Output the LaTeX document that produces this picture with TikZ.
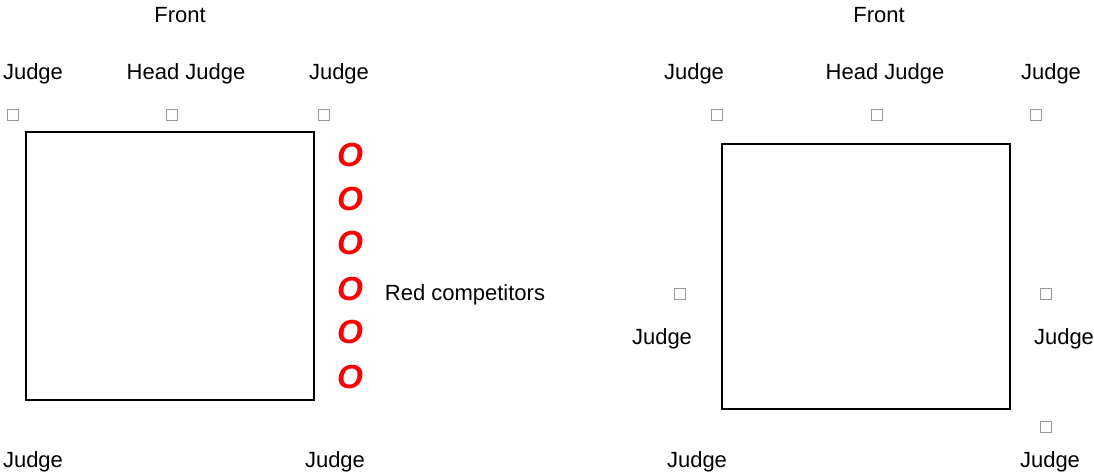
\documentclass[tikz,border=0pt]{standalone}
\usepackage{fontspec}
\setmainfont{Liberation Sans}
\begin{document}
\begin{tikzpicture}[x=0.75pt,y=-0.75pt,
  lbl/.style={inner sep=0pt,yshift=-1.2pt,font=\fontsize{16.5}{19}\selectfont},
  seat/.style={draw=gray!80,line width=0.5pt,minimum size=8.5pt,inner sep=0pt},
  ring/.style={draw=black,line width=1.5pt},
  comp/.style={inner sep=0pt,text=red,font=\fontsize{25}{28}\selectfont\itshape\bfseries}]
\useasboundingbox (0,0) rectangle (1094,472);
% left
\node[ring,minimum width=216pt,minimum height=201pt,inner sep=0pt] (ringL) at (170,266) {};
\node[lbl] (frontL) at (180,13) {Front};
\node[lbl] (jTL) at (33,72) {Judge};
\node[lbl] (hjL) at (186,72) {Head Judge};
\node[lbl] (jTR) at (339,72) {Judge};
\node[seat] (sTL) at (13,115) {};
\node[seat] (sHL) at (172,115) {};
\node[seat] (sTR) at (324,115) {};
\foreach \i/\y in {1/155,2/199,3/243,4/289,5/332,6/377}
  \node[comp] (c\i) at (350,\y) {O};
\node[lbl] (redc) at (465,293) {Red competitors};
\node[lbl] (jBL) at (33,460) {Judge};
\node[lbl] (jBR) at (335,460) {Judge};
% right
\node[ring,minimum width=216pt,minimum height=199pt,inner sep=0pt] (ringR) at (866,276.5) {};
\node[lbl] (frontR) at (879,13) {Front};
\node[lbl] (rjTL) at (694,72) {Judge};
\node[lbl] (rhj) at (885,72) {Head Judge};
\node[lbl] (rjTR) at (1051,72) {Judge};
\node[seat] (rsTL) at (717,115) {};
\node[seat] (rsH) at (877,115) {};
\node[seat] (rsTR) at (1036,115) {};
\node[seat] (rsML) at (680,294) {};
\node[lbl] (rjML) at (662,337) {Judge};
\node[seat] (rsMR) at (1046,294) {};
\node[lbl] (rjMR) at (1064,337) {Judge};
\node[seat] (rsBR) at (1046,427) {};
\node[lbl] (rjBR) at (1050,460) {Judge};
\node[lbl] (rjBL) at (697,460) {Judge};
\end{tikzpicture}
\end{document}
